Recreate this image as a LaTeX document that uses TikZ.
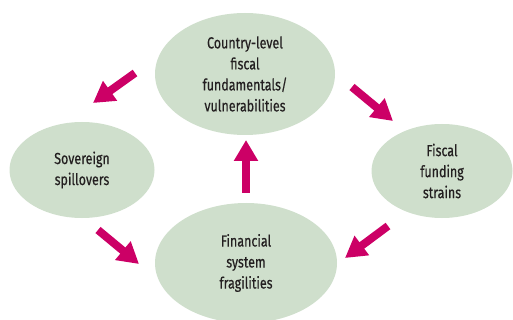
\documentclass[tikz,border=0pt]{standalone}
\usepackage{fontspec}
\setmainfont{Fira Sans}[FakeStretch=0.78,FakeBold=0.4]
\usetikzlibrary{shapes.geometric,arrows.meta}
\definecolor{vertpale}{RGB}{207,223,204}
\definecolor{magenta}{RGB}{204,0,102}
\definecolor{gristexte}{RGB}{35,31,32}
\tikzset{
  bulle/.style={ellipse,fill=vertpale,inner sep=0pt,align=center,text=gristexte,font=\fontsize{16}{21}\selectfont},
  fleche/.style={line width=8pt,magenta,-{Triangle[length=21pt,width=23pt]}}
}
\begin{document}
\begin{tikzpicture}[x=1pt,y=-1pt]
	\useasboundingbox (0,0) rectangle (513,320) ;
	\clip (0,0) rectangle (513,320) ;
	\node[bulle,minimum width=180pt,minimum height=122pt] (fiscal) at (245,74) {Country-level\\fiscal\\fundamentals/\\vulnerabilities} ;
	\node[bulle,minimum width=145pt,minimum height=96pt] (spill) at (82,170) {Sovereign\\spillovers} ;
	\node[bulle,minimum width=141pt,minimum height=94pt] (funding) at (442,171) {Fiscal\\funding\\strains} ;
	\node[bulle,minimum width=182pt,minimum height=120pt] (fragil) at (246,263) {Financial\\system\\fragilities} ;
	\coordinate (s1) at (135,73) ; \coordinate (e1) at (93,103) ;%fiscal -> spill
	\coordinate (s2) at (352,87) ; \coordinate (e2) at (393,121) ;%fiscal -> funding
	\coordinate (s3) at (246,193) ; \coordinate (e3) at (246,140) ;%fragil -> fiscal
	\coordinate (s4) at (98,230) ; \coordinate (e4) at (139,264) ;%spill -> fragil
	\coordinate (s5) at (388,226) ; \coordinate (e5) at (345,258) ;%funding -> fragil
	\foreach \Dep/\Arr in {s1/e1,s2/e2,s3/e3,s4/e4,s5/e5}
	\draw[fleche] (\Dep) -- (\Arr) ;
\end{tikzpicture}
\end{document}
